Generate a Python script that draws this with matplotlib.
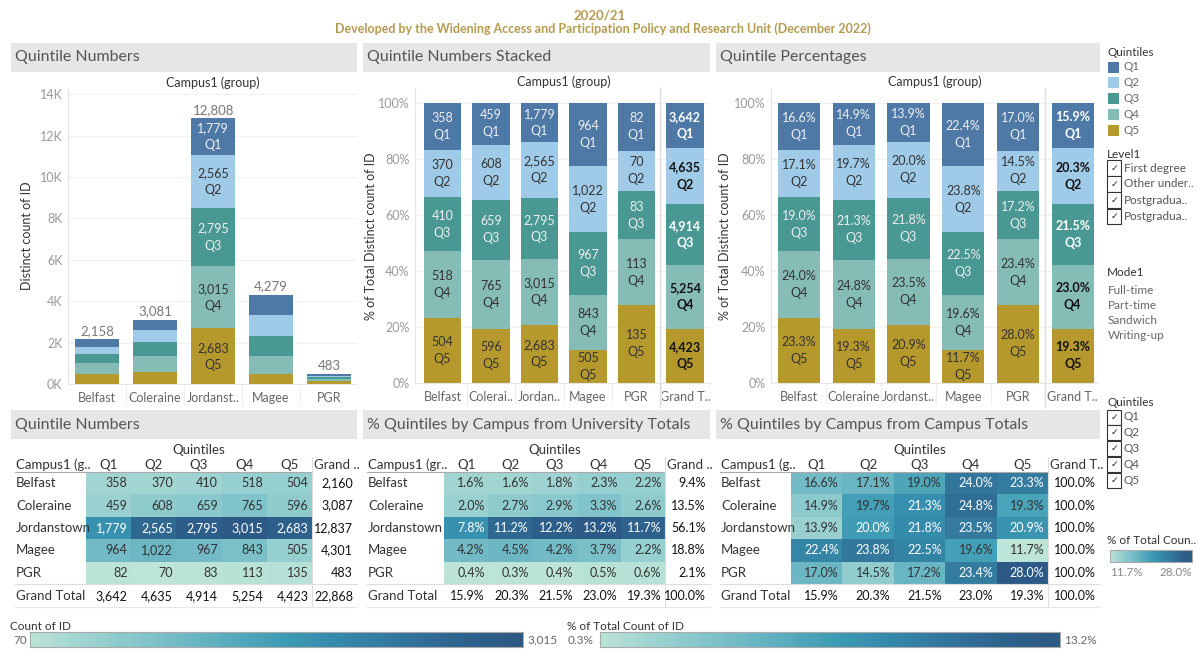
import numpy as np
import matplotlib
matplotlib.use('Agg')
import matplotlib.pyplot as plt
from matplotlib.colors import LinearSegmentedColormap, Normalize
from matplotlib.patches import Rectangle

plt.rcParams['font.family'] = ['Lato', 'DejaVu Sans']

# ---- data ----
campuses = ['Belfast', 'Coleraine', 'Jordanstown', 'Magee', 'PGR']
quintiles = ['Q1', 'Q2', 'Q3', 'Q4', 'Q5']
counts = np.array([
    [358, 370, 410, 518, 504],
    [459, 608, 659, 765, 596],
    [1779, 2565, 2795, 3015, 2683],
    [964, 1022, 967, 843, 505],
    [82, 70, 83, 113, 135],
])
distinct_totals = [2158, 3081, 12808, 4279, 483]

labels_c1 = ['Belfast', 'Coleraine', 'Jordanst..', 'Magee', 'PGR']
labels_c2 = ['Belfast', 'Colerai..', 'Jordan..', 'Magee', 'PGR', 'Grand T..']
labels_c3 = ['Belfast', 'Coleraine', 'Jordanst..', 'Magee', 'PGR', 'Grand T..']
level_items = ['First degree', 'Other under..', 'Postgradua..', 'Postgradua..']
mode_items = ['Full-time', 'Part-time', 'Sandwich', 'Writing-up']

q_colors = ['#4e79a7', '#a0cbe8', '#499894', '#86bcb6', '#b6992d']
q_text = ['#eeeeee', '#333333', '#eeeeee', '#333333', '#333333']
blue_teal = ['#bce4d8', '#a1d5d2', '#89c8cc', '#72bac6', '#59acbe',
             '#419eb6', '#358ead', '#347ea1', '#316f96', '#2d608a', '#2c5985']
cmap = LinearSegmentedColormap.from_list('blueteal', blue_teal)
gold = '#b59a4f'

row_tot = counts.sum(axis=1)
col_tot = counts.sum(axis=0)
grand = counts.sum()
all_counts = np.vstack([counts, col_tot])          # campuses + grand total
all_pct = all_counts / all_counts.sum(axis=1, keepdims=True) * 100

W, H = 1197, 650
fig = plt.figure(figsize=(W / 100, H / 100), dpi=100)
fig.patch.set_facecolor('white')


def rect(x0, y0, x1, y1):
    return [x0 / W, 1 - y1 / H, (x1 - x0) / W, (y1 - y0) / H]


def ftext(x, y, s, **kw):
    kw.setdefault('va', 'center')
    fig.text(x / W, 1 - y / H, s, **kw)


def frect(x0, y0, x1, y1, **kw):
    fig.add_artist(Rectangle((x0 / W, 1 - y1 / H), (x1 - x0) / W, (y1 - y0) / H,
                             transform=fig.transFigure, **kw))


def header(x0, y0, x1, y1, title):
    frect(x0, y0, x1, y1, facecolor='#e6e6e6', edgecolor='none')
    ftext(x0 + 4, (y0 + y1) / 2, title, fontsize=11.5, color='#555555')


# ---- titles ----
ftext(600, 15, '2020/21', fontsize=9.5, fontweight='bold', color=gold, ha='center')
ftext(603, 29, 'Developed by the Widening Access and Participation Policy and Research Unit (December 2022)',
      fontsize=9, fontweight='bold', color=gold, ha='center')

header(11, 43, 357, 72, 'Quintile Numbers')
header(363, 43, 710, 72, 'Quintile Numbers Stacked')
header(716, 43, 1100, 72, 'Quintile Percentages')
header(11, 410, 357, 439, 'Quintile Numbers')
header(363, 410, 710, 439, '% Quintiles by Campus from University Totals')
header(716, 410, 1100, 439, '% Quintiles by Campus from Campus Totals')


def style_axes(ax, xlabels):
    ax.set_xticks(range(len(xlabels)))
    ax.set_xticklabels(xlabels)
    ax.tick_params(length=0, labelsize=9)
    ax.tick_params(axis='x', colors='#666666', pad=6)
    ax.tick_params(axis='y', colors='#999999', pad=4)
    for s in ['top', 'right']:
        ax.spines[s].set_visible(False)
    ax.spines['left'].set_color('#e6e6e6')
    ax.spines['bottom'].set_color('#e6e6e6')
    ax.grid(axis='y', color='#f0f0f0', lw=0.8)
    ax.set_axisbelow(True)
    for i in range(len(xlabels) - 1):
        ax.plot([i + 0.5, i + 0.5], [-0.07, 0], color='#eeeeee', lw=0.8,
                transform=ax.get_xaxis_transform(), clip_on=False)


# ---- chart 1: quintile numbers ----
ax1 = fig.add_axes(rect(68, 88, 357, 384))
x = np.arange(len(campuses))
bottom = np.zeros(len(campuses))
for qi in range(4, -1, -1):
    h = counts[:, qi]
    ax1.bar(x, h, 0.76, bottom=bottom, color=q_colors[qi])
    # only the tall Jordanstown stack carries labels
    ax1.text(2, bottom[2] + h[2] / 2, f'{h[2]:,}\n{quintiles[qi]}', ha='center', va='center',
             color=q_text[qi], fontsize=9, linespacing=1.5)
    bottom = bottom + h
for i, t in enumerate(distinct_totals):
    ax1.text(i, bottom[i] + 120, f'{t:,}', ha='center', va='bottom', color='#777777', fontsize=9.5)
ax1.set_xlim(-0.5, 4.48)
ax1.set_ylim(0, 14300)
ax1.set_yticks(np.arange(0, 14001, 2000))
ax1.set_yticklabels([f'{int(v / 1000)}K' for v in np.arange(0, 14001, 2000)])
style_axes(ax1, labels_c1)
ftext(213, 83, 'Campus1 (group)', fontsize=9, color='#333333', ha='center')
ftext(27, 236, 'Distinct count of ID', fontsize=9, color='#333333', ha='center', rotation=90)


def stacked_pct(ax, label_fn, xlabels, sep):
    xs = np.arange(len(all_counts))
    bottom = np.zeros(len(all_counts))
    for qi in range(4, -1, -1):
        h = all_pct[:, qi] / 100
        ax.bar(xs, h, 0.77, bottom=bottom, color=q_colors[qi])
        for i in xs:
            ax.text(i, bottom[i] + h[i] / 2, label_fn(i, qi) + '\n' + quintiles[qi],
                    ha='center', va='center', color=q_text[qi] if i < 5 else
                    ('white' if q_text[qi] != '#333333' else '#111111'),
                    fontsize=9, linespacing=1.5,
                    fontweight='bold' if i == 5 else 'normal')
        bottom = bottom + h
    ax.set_ylim(0, 1.054)
    ax.set_yticks(np.arange(0, 1.01, 0.2))
    ax.set_yticklabels([f'{int(round(v * 100))}%' for v in np.arange(0, 1.01, 0.2)])
    style_axes(ax, xlabels)
    ax.plot([sep, sep], [-0.08, 1.0], color='#dddddd', lw=1,
            transform=ax.get_xaxis_transform(), clip_on=False)


# ---- chart 2: numbers stacked ----
ax2 = fig.add_axes(rect(415, 88, 710, 383))
stacked_pct(ax2, lambda i, q: f'{all_counts[i, q]:,}', labels_c2, 4.48)
ax2.set_xlim(-0.567, 5.515)
ftext(564, 82, 'Campus1 (group)', fontsize=9, color='#333333', ha='center')
ftext(371, 236, '% of Total Distinct count of ID', fontsize=9, color='#333333', ha='center', rotation=90)

# ---- chart 3: percentages ----
ax3 = fig.add_axes(rect(771, 88, 1097, 383))
stacked_pct(ax3, lambda i, q: f'{all_pct[i, q]:.1f}%', labels_c3, 4.49)
ax3.set_xlim(-0.511, 5.443)
ftext(935, 82, 'Campus1 (group)', fontsize=9, color='#333333', ha='center')
ftext(725, 236, '% of Total Distinct count of ID', fontsize=9, color='#333333', ha='center', rotation=90)


# ---- tables ----
def draw_table(x0, x1, vals, fmt, rtot, ctot, gtot, vmin, vmax,
               label_x, right_x, gh_x, corner, grand_hdr):
    y0, rh = 472, 22.4
    ax = fig.add_axes(rect(x0, y0, x1, y0 + 5 * rh))
    ax.pcolormesh(np.arange(6), np.arange(6), vals, cmap=cmap, vmin=vmin, vmax=vmax)
    ax.set_xlim(0, 5)
    ax.set_ylim(5, 0)
    ax.axis('off')
    cw = (x1 - x0) / 5
    dx = lambda px: (px - x0) / cw
    dy = lambda py: (py - y0) / rh
    norm = Normalize(vmin, vmax)
    fs, fl = 9, 9.5
    for r in range(5):
        for c in range(5):
            col = 'white' if norm(vals[r, c]) > 0.5 else '#333333'
            ax.text(c + 1 - 3.5 / cw, r + 0.5, fmt(vals[r, c]), ha='right', va='center',
                    color=col, fontsize=fs, clip_on=False)
        ax.text(dx(label_x), r + 0.5, campuses[r], ha='left', va='center',
                color='#333333', fontsize=fl, clip_on=False)
        ax.text(dx(right_x), r + 0.5, fmt(rtot[r]), ha='right', va='center',
                color='#111111', fontsize=fs, clip_on=False)
    gy = dy(596)
    ax.text(dx(label_x), gy, 'Grand Total', ha='left', va='center', color='#333333',
            fontsize=fl, clip_on=False)
    for c in range(5):
        ax.text(c + 1 - 3.5 / cw, gy, fmt(ctot[c]), ha='right', va='center',
                color='#111111', fontsize=fs, clip_on=False)
        ax.text(c + 0.5, dy(465), quintiles[c], ha='center', va='center',
                color='#333333', fontsize=fl, clip_on=False)
    ax.text(dx(right_x), gy, fmt(gtot), ha='right', va='center', color='#111111',
            fontsize=fs, clip_on=False)
    ax.text(2.5, dy(450), 'Quintiles', ha='center', va='center', color='#333333',
            fontsize=fl, clip_on=False)
    ax.text(dx(label_x), dy(465), corner, ha='left', va='center', color='#333333',
            fontsize=fl, clip_on=False)
    ax.text(dx(gh_x), dy(465), grand_hdr, ha='left', va='center', color='#333333',
            fontsize=fl, clip_on=False)
    ax.plot([dx(label_x - 1), 5], [0, 0], color='#aaaaaa', lw=0.8, clip_on=False)
    ax.plot([5, 5], [dy(457), dy(607)], color='#dddddd', lw=0.8, clip_on=False)
    ax.plot([dx(label_x - 1), dx(right_x + 4)], [5, 5], color='#dddddd', lw=0.8, clip_on=False)
    ax.plot([dx(label_x - 1), dx(right_x + 4)], [dy(607), dy(607)], color='#e6e6e6',
            lw=0.8, clip_on=False)


fmt_n = lambda v: f'{int(v):,}'
fmt_p = lambda v: f'{v:.1f}%'
uni_pct = counts / grand * 100
camp_pct = counts / row_tot[:, None] * 100

draw_table(86, 312, counts, fmt_n, row_tot, col_tot, grand, counts.min(), counts.max(),
           16, 353, 314, 'Campus1 (g..', 'Grand ..')
draw_table(444, 665, uni_pct, fmt_p, row_tot / grand * 100, col_tot / grand * 100, 100.0,
           0.3, 13.2, 368, 706, 667, 'Campus1 (gr..', 'Grand ..')
draw_table(791, 1048, camp_pct, fmt_p, np.full(5, 100.0), col_tot / grand * 100, 100.0,
           11.7, 28.0, 721, 1096, 1050, 'Campus1 (g..', 'Grand T..')


# ---- legends ----
def gradient(x0, y0, x1, y1, vmin, vmax):
    ax = fig.add_axes(rect(x0, y0, x1, y1))
    ax.imshow(np.linspace(vmin, vmax, 256)[None, :], aspect='auto', cmap=cmap,
              extent=[vmin, vmax, 0, 1])
    ax.set_xticks([])
    ax.set_yticks([])
    for s in ax.spines.values():
        s.set_color('#aaaaaa')


ftext(10, 626, 'Count of ID', fontsize=8.5, color='#333333')
gradient(30, 632, 523, 647, counts.min(), counts.max())
ftext(27, 640, f'{counts.min():,}', fontsize=8.5, color='#666666', ha='right')
ftext(527, 640, f'{counts.max():,}', fontsize=8.5, color='#666666', ha='left')

ftext(567, 626, '% of Total Count of ID', fontsize=8.5, color='#333333')
gradient(600, 632, 1060, 647, 0.3, 13.2)
ftext(568, 640, '0.3%', fontsize=8.5, color='#666666', ha='left')
ftext(1064, 640, '13.2%', fontsize=8.5, color='#666666', ha='left')

ftext(1107, 541, '% of Total Coun..', fontsize=8.5, color='#333333')
gradient(1110, 550, 1192, 562, 11.7, 28.0)
ftext(1110, 573, '11.7%', fontsize=8.5, color='#888888', ha='left')
ftext(1192, 573, '28.0%', fontsize=8.5, color='#888888', ha='right')

ftext(1107, 52, 'Quintiles', fontsize=8.5, color='#333333')
for i, (q, c) in enumerate(zip(quintiles, q_colors)):
    y = 67 + i * 15.8
    frect(1108, y - 5.5, 1119, y + 5.5, facecolor=c, edgecolor='none')
    ftext(1123, y, q, fontsize=8.5, color='#666666')


def checkbox(x, y, label):
    frect(x, y - 7.5, x + 14, y + 7.5, facecolor='white', edgecolor='#333333', lw=0.8)
    ftext(x + 7, y, '\u2713', fontsize=6.5, color='#222222', ha='center', family='DejaVu Sans')
    ftext(x + 17, y, label, fontsize=8.5, color='#555555')


ftext(1107, 155, 'Level1', fontsize=8.5, color='#333333')
for i, s in enumerate(level_items):
    checkbox(1107, 168 + i * 16, s)

ftext(1107, 273, 'Mode1', fontsize=8.5, color='#333333')
for i, s in enumerate(mode_items):
    ftext(1108, 290 + i * 15.3, s, fontsize=8.5, color='#666666')

ftext(1107, 402, 'Quintiles', fontsize=8.5, color='#333333')
for i, q in enumerate(quintiles):
    checkbox(1107, 417 + i * 15.8, q)

fig.savefig('out.png', dpi=100)
